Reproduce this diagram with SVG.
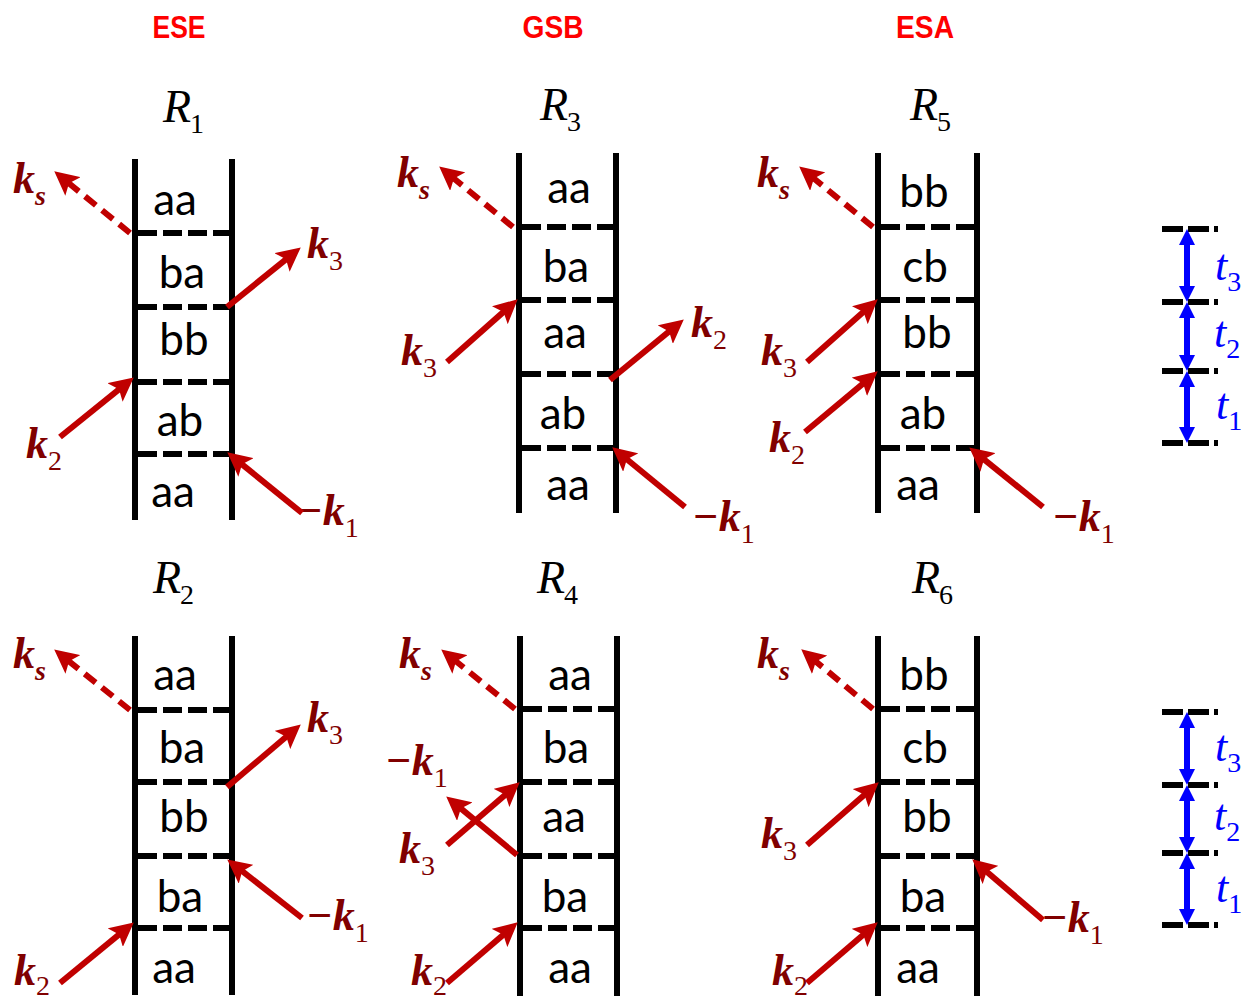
<svg xmlns="http://www.w3.org/2000/svg" width="1241" height="1002" viewBox="0 0 1241 1002">
<style>
.rail{stroke:#000;stroke-width:6;fill:none}
.rung{stroke:#000;stroke-width:6;stroke-dasharray:19 6;fill:none}
.st{font-family:Lato,'Open Sans',sans-serif;font-size:44px;fill:#000;text-anchor:middle}
.hdr{font-family:'Liberation Sans',Arial,sans-serif;font-weight:bold;font-size:32px;fill:#FF0000;text-anchor:middle}
.ttl{font-family:'Liberation Serif','Times New Roman',serif;font-style:italic;font-size:46px;fill:#000}
.kl{font-family:'Liberation Serif','Times New Roman',serif;font-style:italic;font-weight:bold;font-size:44px;fill:#800000}
.tl{font-family:'Liberation Serif','Times New Roman',serif;font-style:italic;font-size:44px;fill:#0000FF}
.sub{font-size:28px;font-style:normal;font-weight:normal}
.subi{font-size:28px}
.ar{stroke:#C00000;stroke-width:6;fill:none;marker-end:url(#rh)}
.ard{stroke:#C00000;stroke-width:6;fill:none;stroke-dasharray:14 8;marker-end:url(#rh)}
.tick{stroke:#000;stroke-width:6;stroke-dasharray:21 5;fill:none}
.tar{stroke:#0000FF;stroke-width:6;fill:none;marker-start:url(#bh);marker-end:url(#bh)}
</style>
<defs>
<marker id="rh" viewBox="0 0 24 24" refX="13" refY="12" markerWidth="24" markerHeight="24" markerUnits="userSpaceOnUse" orient="auto">
<path d="M0,0 L24,12 L0,24 L5,12 z" fill="#C00000"/>
</marker>
<marker id="bh" viewBox="0 0 16 16" refX="8" refY="8" markerWidth="16" markerHeight="16" markerUnits="userSpaceOnUse" orient="auto-start-reverse">
<path d="M0,0 L16,8 L0,16 z" fill="#0000FF"/>
</marker>
</defs>

<g id="headers">
<text class="hdr" x="179" y="38" textLength="53" lengthAdjust="spacingAndGlyphs">ESE</text>
<text class="hdr" x="553" y="38" textLength="61" lengthAdjust="spacingAndGlyphs">GSB</text>
<text class="hdr" x="925" y="38" textLength="58" lengthAdjust="spacingAndGlyphs">ESA</text>
</g>

<g id="R1">
<text class="ttl" x="163" y="122">R<tspan class="sub" dx="-1" dy="11">1</tspan></text>
<line class="rung" x1="138" y1="233" x2="230" y2="233"/>
<line class="rung" x1="138" y1="307" x2="230" y2="307"/>
<line class="rung" x1="138" y1="382" x2="230" y2="382"/>
<line class="rung" x1="138" y1="454" x2="230" y2="454"/>
<line class="rail" x1="135" y1="159" x2="135" y2="520"/>
<line class="rail" x1="232" y1="159" x2="232" y2="520"/>
<text class="st" x="175" y="215">aa</text>
<text class="st" x="182" y="288">ba</text>
<text class="st" x="184" y="355">bb</text>
<text class="st" x="180" y="436">ab</text>
<text class="st" x="173" y="507">aa</text>
<text class="kl" x="13" y="193">k<tspan class="subi" dy="12">s</tspan></text>
<text class="kl" x="307" y="258">k<tspan class="sub" dy="12">3</tspan></text>
<text class="kl" x="26" y="458">k<tspan class="sub" dy="12">2</tspan></text>
<text class="kl" x="296" y="525">−k<tspan class="sub" dy="12">1</tspan></text>
</g>

<g id="R3">
<text class="ttl" x="540" y="120">R<tspan class="sub" dx="-1" dy="11">3</tspan></text>
<line class="rung" x1="522" y1="227" x2="614" y2="227"/>
<line class="rung" x1="522" y1="300" x2="614" y2="300"/>
<line class="rung" x1="522" y1="374" x2="614" y2="374"/>
<line class="rung" x1="522" y1="448" x2="614" y2="448"/>
<line class="rail" x1="519" y1="153" x2="519" y2="513"/>
<line class="rail" x1="616" y1="153" x2="616" y2="513"/>
<text class="st" x="569" y="203">aa</text>
<text class="st" x="566" y="282">ba</text>
<text class="st" x="565" y="348">aa</text>
<text class="st" x="563" y="429">ab</text>
<text class="st" x="568" y="500">aa</text>
<text class="kl" x="397" y="187">k<tspan class="subi" dy="12">s</tspan></text>
<text class="kl" x="401" y="365">k<tspan class="sub" dy="12">3</tspan></text>
<text class="kl" x="691" y="337">k<tspan class="sub" dy="12">2</tspan></text>
<text class="kl" x="692" y="531">−k<tspan class="sub" dy="12">1</tspan></text>
</g>

<g id="R5">
<text class="ttl" x="910" y="120">R<tspan class="sub" dx="-1" dy="11">5</tspan></text>
<line class="rung" x1="881" y1="227" x2="975" y2="227"/>
<line class="rung" x1="881" y1="300" x2="975" y2="300"/>
<line class="rung" x1="881" y1="374" x2="975" y2="374"/>
<line class="rung" x1="881" y1="448" x2="975" y2="448"/>
<line class="rail" x1="878" y1="153" x2="878" y2="513"/>
<line class="rail" x1="977" y1="153" x2="977" y2="513"/>
<text class="st" x="924" y="207">bb</text>
<text class="st" x="925" y="282">cb</text>
<text class="st" x="927" y="348">bb</text>
<text class="st" x="923" y="429">ab</text>
<text class="st" x="918" y="500">aa</text>
<text class="kl" x="757" y="187">k<tspan class="subi" dy="12">s</tspan></text>
<text class="kl" x="761" y="365">k<tspan class="sub" dy="12">3</tspan></text>
<text class="kl" x="769" y="452">k<tspan class="sub" dy="12">2</tspan></text>
<text class="kl" x="1052" y="531">−k<tspan class="sub" dy="12">1</tspan></text>
</g>

<g id="R2">
<text class="ttl" x="153" y="593">R<tspan class="sub" dx="-1" dy="11">2</tspan></text>
<line class="rung" x1="138" y1="710" x2="230" y2="710"/>
<line class="rung" x1="138" y1="782" x2="230" y2="782"/>
<line class="rung" x1="138" y1="856" x2="230" y2="856"/>
<line class="rung" x1="138" y1="928" x2="230" y2="928"/>
<line class="rail" x1="135" y1="636" x2="135" y2="995"/>
<line class="rail" x1="232" y1="636" x2="232" y2="995"/>
<text class="st" x="175" y="690">aa</text>
<text class="st" x="182" y="763">ba</text>
<text class="st" x="184" y="832">bb</text>
<text class="st" x="180" y="912">ba</text>
<text class="st" x="174" y="983">aa</text>
<text class="kl" x="13" y="668">k<tspan class="subi" dy="12">s</tspan></text>
<text class="kl" x="307" y="732">k<tspan class="sub" dy="12">3</tspan></text>
<text class="kl" x="14" y="985">k<tspan class="sub" dy="10">2</tspan></text>
<text class="kl" x="306" y="930">−k<tspan class="sub" dy="12">1</tspan></text>
</g>

<g id="R4">
<text class="ttl" x="537" y="593">R<tspan class="sub" dx="-1" dy="11">4</tspan></text>
<line class="rung" x1="523" y1="709" x2="615" y2="709"/>
<line class="rung" x1="523" y1="782" x2="615" y2="782"/>
<line class="rung" x1="523" y1="856" x2="615" y2="856"/>
<line class="rung" x1="523" y1="928" x2="615" y2="928"/>
<line class="rail" x1="520" y1="636" x2="520" y2="996"/>
<line class="rail" x1="617" y1="636" x2="617" y2="996"/>
<text class="st" x="570" y="690">aa</text>
<text class="st" x="566" y="763">ba</text>
<text class="st" x="564" y="832">aa</text>
<text class="st" x="565" y="912">ba</text>
<text class="st" x="570" y="983">aa</text>
<text class="kl" x="399" y="668">k<tspan class="subi" dy="12">s</tspan></text>
<text class="kl" x="385" y="775">−k<tspan class="sub" dy="12">1</tspan></text>
<text class="kl" x="399" y="863">k<tspan class="sub" dy="12">3</tspan></text>
<text class="kl" x="411" y="985">k<tspan class="sub" dy="10">2</tspan></text>
</g>

<g id="R6">
<text class="ttl" x="912" y="593">R<tspan class="sub" dx="-1" dy="11">6</tspan></text>
<line class="rung" x1="881" y1="709" x2="975" y2="709"/>
<line class="rung" x1="881" y1="782" x2="975" y2="782"/>
<line class="rung" x1="881" y1="856" x2="975" y2="856"/>
<line class="rung" x1="881" y1="928" x2="975" y2="928"/>
<line class="rail" x1="878" y1="636" x2="878" y2="996"/>
<line class="rail" x1="977" y1="636" x2="977" y2="996"/>
<text class="st" x="924" y="690">bb</text>
<text class="st" x="925" y="763">cb</text>
<text class="st" x="927" y="832">bb</text>
<text class="st" x="923" y="912">ba</text>
<text class="st" x="918" y="983">aa</text>
<text class="kl" x="757" y="668">k<tspan class="subi" dy="12">s</tspan></text>
<text class="kl" x="761" y="848">k<tspan class="sub" dy="12">3</tspan></text>
<text class="kl" x="772" y="985">k<tspan class="sub" dy="10">2</tspan></text>
<text class="kl" x="1041" y="932">−k<tspan class="sub" dy="12">1</tspan></text>
</g>

<g id="timescale-top">
<line class="tick" x1="1162" y1="229" x2="1218" y2="229"/>
<line class="tick" x1="1162" y1="302" x2="1218" y2="302"/>
<line class="tick" x1="1162" y1="371" x2="1218" y2="371"/>
<line class="tick" x1="1162" y1="443" x2="1218" y2="443"/>
<text class="tl" x="1215" y="280">t<tspan class="sub" dy="11">3</tspan></text>
<text class="tl" x="1214" y="347">t<tspan class="sub" dy="11">2</tspan></text>
<text class="tl" x="1216" y="419">t<tspan class="sub" dy="11">1</tspan></text>
</g>

<g id="timescale-bottom">
<line class="tick" x1="1162" y1="712" x2="1218" y2="712"/>
<line class="tick" x1="1162" y1="785" x2="1218" y2="785"/>
<line class="tick" x1="1162" y1="853" x2="1218" y2="853"/>
<line class="tick" x1="1162" y1="925" x2="1218" y2="925"/>
<text class="tl" x="1215" y="761">t<tspan class="sub" dy="11">3</tspan></text>
<text class="tl" x="1214" y="830">t<tspan class="sub" dy="11">2</tspan></text>
<text class="tl" x="1216" y="902">t<tspan class="sub" dy="11">1</tspan></text>
</g>

<g id="connectors">
<line class="ard" x1="130" y1="233" x2="62.8" y2="178.3"/>
<line class="ar" x1="227" y1="307" x2="292.2" y2="254.3"/>
<line class="ar" x1="60" y1="437" x2="125.2" y2="384.3"/>
<line class="ar" x1="302" y1="513" x2="235.8" y2="459.3"/>

<line class="ard" x1="513" y1="227" x2="447.7" y2="173.4"/>
<line class="ar" x1="447" y1="362" x2="509.5" y2="306.6"/>
<line class="ar" x1="610" y1="380" x2="675.3" y2="326.4"/>
<line class="ar" x1="685" y1="507" x2="620.7" y2="454.3"/>

<line class="ard" x1="873" y1="227" x2="807.7" y2="173.4"/>
<line class="ar" x1="807" y1="362" x2="869.5" y2="306.6"/>
<line class="ar" x1="805" y1="432" x2="869.3" y2="378.4"/>
<line class="ar" x1="1043" y1="507" x2="977.8" y2="454.3"/>

<line class="ard" x1="130" y1="710" x2="62.8" y2="656.3"/>
<line class="ar" x1="227" y1="787" x2="292.4" y2="731.5"/>
<line class="ar" x1="302" y1="918" x2="235.9" y2="866.2"/>
<line class="ar" x1="60" y1="983" x2="125.3" y2="929.4"/>

<line class="ard" x1="515" y1="709" x2="449.8" y2="656.3"/>
<line class="ar" x1="517" y1="855" x2="454.7" y2="803.4"/>
<line class="ar" x1="447" y1="845" x2="511.4" y2="789.5"/>
<line class="ar" x1="447" y1="983" x2="509.4" y2="929.5"/>

<line class="ard" x1="873" y1="709" x2="809.7" y2="656.4"/>
<line class="ar" x1="807" y1="845" x2="870.5" y2="789.6"/>
<line class="ar" x1="1043" y1="920" x2="980.6" y2="866.5"/>
<line class="ar" x1="807" y1="983" x2="869.4" y2="929.5"/>

<line class="tar" x1="1187" y1="237" x2="1187" y2="294"/>
<line class="tar" x1="1187" y1="310" x2="1187" y2="363"/>
<line class="tar" x1="1187" y1="379" x2="1187" y2="435"/>
<line class="tar" x1="1187" y1="720" x2="1187" y2="777"/>
<line class="tar" x1="1187" y1="793" x2="1187" y2="845"/>
<line class="tar" x1="1187" y1="861" x2="1187" y2="917"/>
</g>
</svg>
